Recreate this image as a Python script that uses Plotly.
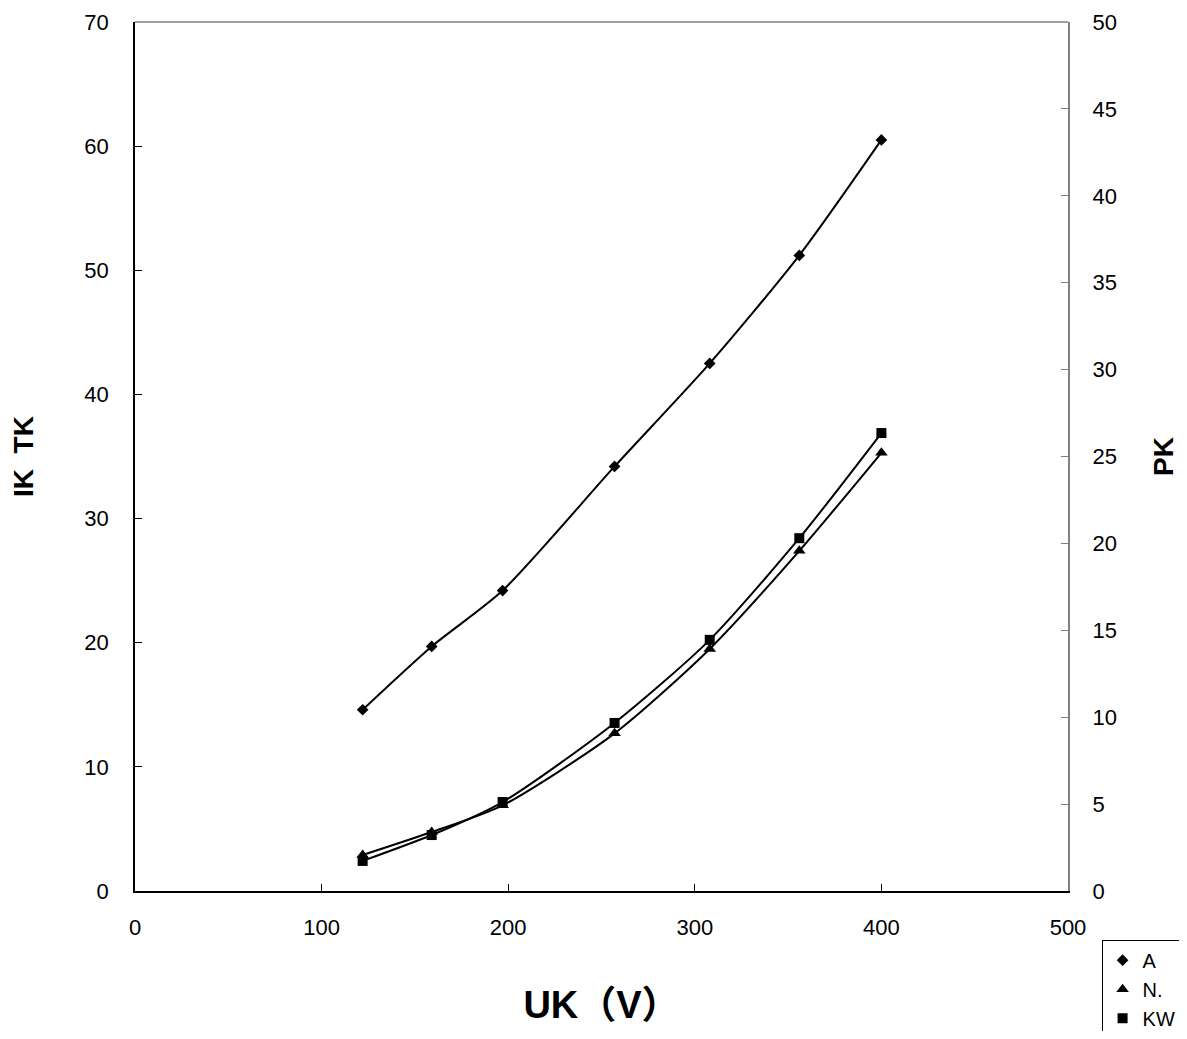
import plotly.graph_objects as go

uk = [122, 159, 197, 257, 308, 356, 400]
a_vals = [14.6, 19.7, 24.2, 34.2, 42.5, 51.2, 60.5]
n_vals = [2.9, 4.75, 6.9, 12.7, 19.5, 27.4, 35.3]
kw_vals = [1.73, 3.22, 5.12, 9.67, 14.45, 20.3, 26.35]

x_ticks = [0, 100, 200, 300, 400, 500]

FONT = "Liberation Sans, Arial, Noto Sans CJK SC, sans-serif"

series = [
    ("A", a_vals, "diamond", 9, "y"),
    ("N.", n_vals, "triangle-up", 11, "y"),
    ("KW", kw_vals, "square", 10, "y2"),
]

fig = go.Figure()
for name, vals, sym, sz, ax in series:
    fig.add_trace(go.Scatter(x=uk, y=vals, name=name, mode="lines", yaxis=ax, showlegend=False,
                             line=dict(color="black", width=2, shape="spline", smoothing=0.7)))
    fig.add_trace(go.Scatter(x=uk, y=vals, name=name, mode="markers", yaxis=ax,
                             marker=dict(symbol=sym, size=sz, color="black")))

fig.update_layout(
    width=1171, height=1023,
    margin=dict(l=127, r=111, t=14, b=140, autoexpand=False),
    paper_bgcolor="white", plot_bgcolor="white",
    font=dict(family=FONT, size=22, color="black"),
    showlegend=True,
    legend=dict(x=1.036, y=-0.056, xanchor="left", yanchor="top",
                bordercolor="black", borderwidth=1, bgcolor="white",
                font=dict(size=20), itemwidth=30, tracegroupgap=0),
    xaxis=dict(range=[0, 500], tickvals=x_ticks, showgrid=False, zeroline=False,
               showline=True, linecolor="black", linewidth=1.5, automargin=False,
               ticks="inside", ticklen=7, tickcolor="black", ticklabelstandoff=16,
               tickfont=dict(size=22),
               title=dict(text="UK（V）", font=dict(size=38, family=FONT, weight="bold"), standoff=52)),
    yaxis=dict(range=[0, 70], dtick=10, showgrid=False, zeroline=False,
               showline=True, linecolor="black", linewidth=1.5, automargin=False,
               ticks="inside", ticklen=7, tickcolor="black", ticklabelstandoff=20,
               tickfont=dict(size=22),
               title=dict(text="IK  TK", font=dict(size=28, family=FONT, weight="bold"), standoff=48)),
    yaxis2=dict(range=[0, 50], dtick=5, overlaying="y", side="right", showgrid=False, zeroline=False,
                showline=True, linecolor="#808080", linewidth=2, automargin=False,
                ticks="inside", ticklen=7, tickcolor="#808080", ticklabelstandoff=18,
                tickfont=dict(size=22),
                title=dict(text="PK", font=dict(size=28, family=FONT, weight="bold"), standoff=40)),
    shapes=[dict(type="line", xref="paper", yref="paper", x0=0, x1=1, y0=1, y1=1,
                 line=dict(color="#808080", width=1.5))],
)

fig.write_html("out.html")
